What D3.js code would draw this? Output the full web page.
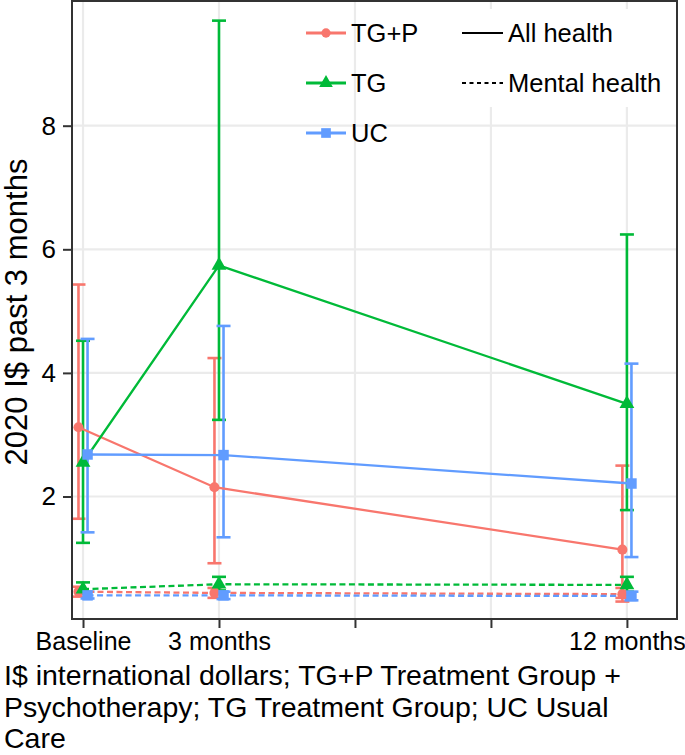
<!DOCTYPE html>
<html>
<head>
<meta charset="utf-8">
<script src="https://cdn.jsdelivr.net/npm/d3@7"></script>
<style>
  html, body { margin: 0; padding: 0; background: #fff; }
  svg { display: block; }
  text { font-family: "Liberation Sans", Arial, Helvetica, sans-serif; }
</style>
</head>
<body>
<script>
// ---------- data ----------
const timepoints = [0, 3, 12];
const xTickValues = [0, 3, 6, 9, 12];
const xTickLabels = ["Baseline", "3 months", "", "", "12 months"];
const yTickValues = [2, 4, 6, 8];
const groups = ["TG+P", "TG", "UC"];
const groupColors = ["#F8766D", "#00BA38", "#619CFF"];
const groupShapes = ["circle", "triangle", "square"];
const outcomes = ["All health", "Mental health"];

// All health (mean, lower CI, upper CI) per group
const allTGP_mean = [3.12, 2.15, 1.14];
const allTGP_lo   = [1.64, 0.92, 0.36];
const allTGP_hi   = [5.43, 4.24, 2.50];
const allTG_mean  = [2.55, 5.74, 3.50];
const allTG_lo    = [1.25, 3.24, 1.78];
const allTG_hi    = [4.52, 9.70, 6.24];
const allUC_mean  = [2.68, 2.67, 2.21];
const allUC_lo    = [1.42, 1.34, 1.02];
const allUC_hi    = [4.55, 4.76, 4.15];

// Mental health
const menTGP_mean = [0.46, 0.44, 0.42];
const menTGP_lo   = [0.38, 0.36, 0.30];
const menTGP_hi   = [0.54, 0.52, 0.52];
const menTG_mean  = [0.50, 0.58, 0.57];
const menTG_lo    = [0.43, 0.48, 0.46];
const menTG_hi    = [0.61, 0.70, 0.70];
const menUC_mean  = [0.40, 0.40, 0.39];
const menUC_lo    = [0.35, 0.34, 0.32];
const menUC_hi    = [0.46, 0.46, 0.46];

const captionLines = [
  "I$ international dollars; TG+P Treatment Group +",
  "Psychotherapy; TG Treatment Group; UC Usual",
  "Care"
];
const yTitle = "2020 I$ past 3 months";

// ---------- build series ----------
const series = [
  {g: 0, o: 0, mean: allTGP_mean, lo: allTGP_lo, hi: allTGP_hi},
  {g: 1, o: 0, mean: allTG_mean,  lo: allTG_lo,  hi: allTG_hi},
  {g: 2, o: 0, mean: allUC_mean,  lo: allUC_lo,  hi: allUC_hi},
  {g: 0, o: 1, mean: menTGP_mean, lo: menTGP_lo, hi: menTGP_hi},
  {g: 1, o: 1, mean: menTG_mean,  lo: menTG_lo,  hi: menTG_hi},
  {g: 2, o: 1, mean: menUC_mean,  lo: menUC_lo,  hi: menUC_hi}
];
const dodge = [-0.1, 0, 0.1]; // horizontal dodge in months per group

// ---------- layout ----------
const W = 685, H = 755;
const P = {left: 72, right: 677, top: 1, bottom: 619};
const FONT = '"Liberation Sans", Arial, Helvetica, sans-serif';

const x = d3.scaleLinear().domain([-0.243, 13.105]).range([P.left, P.right]);
const y = d3.scaleLinear().domain([0, 10]).range([620.1, 2.1]);

const svg = d3.select("body").append("svg").attr("width", W).attr("height", H);

// panel background
svg.append("rect").attr("x", P.left).attr("y", P.top)
  .attr("width", P.right - P.left).attr("height", P.bottom - P.top).attr("fill", "#fff");

const gridColor = "#EBEBEB";
const grid = svg.append("g");
grid.selectAll("line.v").data(xTickValues).join("line")
  .attr("x1", d => x(d)).attr("x2", d => x(d))
  .attr("y1", P.top).attr("y2", P.bottom)
  .attr("stroke", gridColor).attr("stroke-width", 2.2);
grid.selectAll("line.h").data(yTickValues).join("line")
  .attr("y1", d => y(d)).attr("y2", d => y(d))
  .attr("x1", P.left).attr("x2", P.right)
  .attr("stroke", gridColor).attr("stroke-width", 2.2);

// linetype legend background (white box hides grid)
const leg2 = {x: 457, y: 9, w: 212, h: 98};
svg.append("rect").attr("x", leg2.x).attr("y", leg2.y).attr("width", leg2.w).attr("height", leg2.h).attr("fill", "#fff");

// ---------- marks ----------
const plot = svg.append("g");
const dash = "6,3.5";

function symbolPath(shape, size) {
  const t = shape === "circle" ? d3.symbolCircle : shape === "triangle" ? d3.symbolTriangle : d3.symbolSquare;
  return d3.symbol().type(t).size(size)();
}
const shapeSize = {circle: 80, triangle: 95, square: 110};

series.forEach(s => {
  const col = groupColors[s.g];
  const pts = timepoints.map((t, i) => ({t, m: s.mean[i], lo: s.lo[i], hi: s.hi[i]}));
  const gx = d => x(d.t + dodge[s.g]);
  const eb = plot.append("g").attr("stroke", col).attr("stroke-width", 2.6).attr("fill", "none");
  eb.selectAll("line.v").data(pts).join("line")
    .attr("x1", gx).attr("x2", gx).attr("y1", d => y(d.lo)).attr("y2", d => y(d.hi));
  eb.selectAll("line.cl").data(pts).join("line")
    .attr("x1", d => gx(d) - 7).attr("x2", d => gx(d) + 7).attr("y1", d => y(d.lo)).attr("y2", d => y(d.lo));
  eb.selectAll("line.ch").data(pts).join("line")
    .attr("x1", d => gx(d) - 7).attr("x2", d => gx(d) + 7).attr("y1", d => y(d.hi)).attr("y2", d => y(d.hi));
});
series.forEach(s => {
  const col = groupColors[s.g];
  const pts = timepoints.map((t, i) => ({t, m: s.mean[i]}));
  const line = d3.line().x(d => x(d.t + dodge[s.g])).y(d => y(d.m));
  plot.append("path").datum(pts).attr("d", line)
    .attr("fill", "none").attr("stroke", col).attr("stroke-width", 2.3)
    .attr("stroke-dasharray", s.o === 1 ? dash : null);
});
series.forEach(s => {
  const col = groupColors[s.g];
  const shape = groupShapes[s.g];
  const pts = timepoints.map((t, i) => ({t, m: s.mean[i]}));
  plot.selectAll(null).data(pts).join("path")
    .attr("d", symbolPath(shape, shapeSize[shape]))
    .attr("transform", d => `translate(${x(d.t + dodge[s.g])},${y(d.m)})`)
    .attr("fill", col);
});

// panel border
svg.append("rect").attr("x", P.left).attr("y", P.top)
  .attr("width", P.right - P.left).attr("height", P.bottom - P.top)
  .attr("fill", "none").attr("stroke", "#333").attr("stroke-width", 2);

// ---------- axes ----------
const yAxis = svg.append("g").attr("transform", `translate(${P.left},0)`)
  .call(d3.axisLeft(y).tickValues(yTickValues).tickSize(9).tickPadding(7).tickFormat(d3.format("d")));
yAxis.select(".domain").remove();
yAxis.selectAll(".tick line").attr("stroke", "#333").attr("stroke-width", 2);
yAxis.selectAll(".tick text").attr("font-size", 26).attr("fill", "#000").attr("font-family", FONT);

const xAxis = svg.append("g").attr("transform", `translate(0,${P.bottom})`)
  .call(d3.axisBottom(x).tickValues(xTickValues).tickSize(9).tickPadding(4)
    .tickFormat((d, i) => xTickLabels[i]));
xAxis.select(".domain").remove();
xAxis.selectAll(".tick line").attr("stroke", "#333").attr("stroke-width", 2);
xAxis.selectAll(".tick text").attr("font-size", 25).attr("fill", "#000").attr("font-family", FONT);

// y title
svg.append("text").attr("transform", `translate(27,${(P.top + P.bottom) / 2 + 2}) rotate(-90)`)
  .attr("text-anchor", "middle").attr("font-size", 31).attr("fill", "#000").text(yTitle);

// caption
svg.append("g").selectAll("text").data(captionLines).join("text")
  .attr("x", 4).attr("y", (d, i) => 685 + i * 31.5)
  .attr("font-size", 28.5).attr("fill", "#000").text(d => d);

// ---------- legends ----------
const leg1 = svg.append("g").attr("transform", "translate(306,33)");
groups.forEach((gname, i) => {
  const row = leg1.append("g").attr("transform", `translate(0,${i * 50})`);
  row.append("line").attr("x1", 0).attr("x2", 40).attr("y1", 0).attr("y2", 0)
    .attr("stroke", groupColors[i]).attr("stroke-width", 2.8);
  row.append("path").attr("d", symbolPath(groupShapes[i], shapeSize[groupShapes[i]] * 0.85))
    .attr("transform", "translate(20,0)").attr("fill", groupColors[i]);
  row.append("text").attr("x", 45).attr("y", 0).attr("dy", "0.35em")
    .attr("font-size", 25.5).attr("fill", "#000").text(gname);
});

const leg2g = svg.append("g").attr("transform", "translate(462,33)");
outcomes.forEach((oname, i) => {
  const row = leg2g.append("g").attr("transform", `translate(0,${i * 50})`);
  row.append("line").attr("x1", 0).attr("x2", 41).attr("y1", 0).attr("y2", 0)
    .attr("stroke", "#000").attr("stroke-width", 2)
    .attr("stroke-dasharray", i === 1 ? "4,3.5" : null);
  row.append("text").attr("x", 46).attr("y", 0).attr("dy", "0.35em")
    .attr("font-size", 25.5).attr("fill", "#000").text(oname);
});
</script>
</body>
</html>
